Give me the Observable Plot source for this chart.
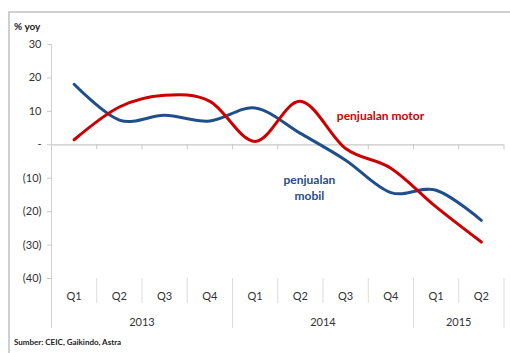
<!DOCTYPE html>
<html><head><meta charset="utf-8">
<script src="https://cdn.jsdelivr.net/npm/d3@7"></script>
<script src="https://cdn.jsdelivr.net/npm/@observablehq/plot@0.6"></script>
<style>
body{margin:0;background:#fff;overflow:hidden;}
#wrap{position:relative;width:510px;height:353px;overflow:hidden;font-family:Lato,sans-serif;}
#frame{position:absolute;left:8px;top:11px;width:600px;height:400px;border:2px solid #cfcfcf;box-sizing:border-box;}
#unit{position:absolute;left:14px;top:21px;font-weight:bold;font-size:10px;line-height:1;color:#222;}
#src{position:absolute;left:14px;top:338px;font-weight:bold;font-size:8px;line-height:1;color:#222;}
#chart{position:absolute;left:0;top:0;}
</style></head>
<body><div id="wrap"><div id="frame"></div><div id="chart"></div><div id="unit">% yoy</div><div id="src">Sumber: CEIC, Gaikindo, Astra</div></div>
<script>
const quarters = ["Q1","Q2","Q3","Q4","Q1","Q2","Q3","Q4","Q1","Q2"];
const quarterYears = ["2013","2013","2013","2013","2014","2014","2014","2014","2015","2015"];
const years = ["2013","2014","2015"];
const mobil = [18.1, 7.4, 8.8, 7.1, 11.0, 3.4, -4.6, -14.3, -13.6, -22.6];
const motor = [1.5, 11.3, 14.8, 13.0, 1.0, 13.0, -1.1, -7.0, -18.6, -29.1];
const yTicks = [30, 20, 10, 0, -10, -20, -30, -40];
const seriesNames = ["penjualan mobil", "penjualan motor"];
const seriesColors = ["#1f4e8a", "#cc0000"];
const labelText = ["penjualan motor", "penjualan\nmobil"];
const labelSeries = ["penjualan motor", "penjualan mobil"];
const labelX = [6.77, 5.2];
const labelY = [8.8, -12.7];

const rows = [];
quarters.forEach((q, i) => {
  rows.push({i, series: seriesNames[0], v: mobil[i]});
  rows.push({i, series: seriesNames[1], v: motor[i]});
});
const idx = quarters.map((q, i) => i);
const bounds = d3.range(-0.5, quarters.length, 1);
const yearBounds = bounds.filter(b => b < 0 || b > quarters.length - 1 || quarterYears[b - 0.5] !== quarterYears[b + 0.5]);
const innerBounds = bounds.filter(b => !yearBounds.includes(b));
const yearCenters = years.map(y => ({year: y, x: d3.mean(idx.filter(i => quarterYears[i] === y))}));
const yMin = d3.min(yTicks), yMax = d3.max(yTicks);

const chart = Plot.plot({
  width: 510, height: 353,
  marginLeft: 51, marginRight: 6.5, marginTop: 44, marginBottom: 75,
  x: {domain: [-0.5, quarters.length - 0.5], axis: null},
  y: {domain: [yMin, yMax], axis: null},
  color: {domain: seriesNames, range: seriesColors},
  style: {fontFamily: "Lato, sans-serif", fontSize: "11px", background: "transparent", color: "#333"},
  marks: [
    Plot.ruleY([0], {stroke: "#c8c8c8", strokeWidth: 1.2}),
    Plot.ruleX(bounds, {y1: 0, y2: 0, insetBottom: -5, stroke: "#c8c8c8"}),
    Plot.ruleX(innerBounds, {y1: yMin, y2: yMin, insetBottom: -25, stroke: "#dcdcdc"}),
    Plot.ruleX(yearBounds.slice(1), {y1: yMin, y2: yMin, insetBottom: -50, stroke: "#dcdcdc"}),
    Plot.ruleX([-0.5], {y1: yMax, y2: yMin, insetBottom: -50, stroke: "#d0d0d0"}),
    Plot.axisY({ticks: yTicks, tickSize: 4, tickPadding: 6, stroke: "#c8c8c8", fill: "#333", label: null,
      tickFormat: v => v === 0 ? "-" : v < 0 ? `(${-v})` : `${v}`}),
    Plot.text(quarters, {x: (d, i) => i, y: yMin, dy: 18, text: d => d, fill: "#333"}),
    Plot.text(yearCenters, {x: "x", y: yMin, dy: 44, text: "year", fill: "#333"}),
    Plot.line(rows, {x: "i", y: "v", z: "series", stroke: "series", strokeWidth: 3, curve: "cardinal", tension: 0}),
    Plot.text(labelText, {x: (d, i) => labelX[i], y: (d, i) => labelY[i], text: d => d, fill: (d, i) => labelSeries[i],
      fontWeight: "bold", fontSize: 12, lineHeight: 1.33})
  ]
});
document.getElementById("chart").appendChild(chart);
</script>
</body></html>
